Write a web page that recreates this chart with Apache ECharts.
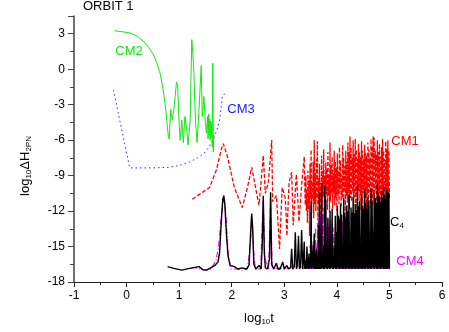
<!DOCTYPE html>
<html><head><meta charset="utf-8">
<script src="https://cdn.jsdelivr.net/npm/echarts@6/dist/echarts.min.js"></script>
<style>html,body{margin:0;padding:0;background:#fff}#c{width:449px;height:332px}</style>
</head><body><div id="c"></div>
<script>
// ---- data ----
var xTicks = [-1, 0, 1, 2, 3, 4, 5, 6];
var yTicks = [-18, -15, -12, -9, -6, -3, 0, 3];

var cm2 = [[-0.23,3.25],[-0.05,3.15],[0.08,3.05],[0.2,2.8],[0.32,2.35],[0.42,1.85],[0.5,1.3],[0.57,0.6],[0.63,-0.2],[0.68,-1.3],[0.72,-2.5],[0.75,-3.6],[0.77,-4.6],[0.79,-5.5],[0.81,-5.9],[0.84,-3.4],[0.87,-4.3],[0.9,-3.4],[0.95,-1.1],[0.97,-1.3],[1.0,-4.6],[1.02,-6.0],[1.05,-4.3],[1.08,-6.2],[1.11,-4.0],[1.14,-4.9],[1.17,-6.4],[1.21,-4.3],[1.24,2.5],[1.26,1.4],[1.28,-0.3],[1.31,-4.3],[1.34,-6.2],[1.38,-3.2],[1.42,0.3],[1.44,-4.0],[1.47,-2.3],[1.5,-4.6],[1.52,-5.4],[1.54,-4.0],[1.55,-5.9],[1.56,-3.8],[1.57,-5.6],[1.58,-4.2],[1.59,-6.0],[1.60,-4.4],[1.61,-5.8],[1.62,-4.6],[1.63,-6.6],[1.64,0.5],[1.65,-7.0],[1.66,-5.6]];

var cm3 = [[-0.25,-1.75],[0.06,-8.35],[0.5,-8.35],[0.8,-8.3],[1.0,-8.15],[1.2,-7.85],[1.35,-7.5],[1.48,-7.1],[1.58,-6.5],[1.66,-5.8],[1.72,-5.1],[1.77,-4.3],[1.8,-3.2],[1.82,-2.3],[1.86,-2.1],[1.93,-2.1]];

var cm1Early = [[1.25,-11.0],[1.45,-10.4],[1.58,-10.0],[1.71,-8.5],[1.80,-6.8],[1.84,-6.3],[1.92,-7.4],[2.05,-10.0],[2.20,-11.7],[2.30,-10.0],[2.38,-8.3],[2.47,-10.4],[2.52,-11.5],[2.60,-7.3],[2.64,-10.5],[2.70,-9.5],[2.76,-6.0],[2.78,-11.2],[2.85,-10.7],[2.91,-15.2],[2.96,-10.0],[3.02,-10.9],[3.05,-14.1],[3.09,-9.6],[3.14,-8.7],[3.17,-13.2],[3.23,-8.9],[3.28,-12.9],[3.33,-9.8],[3.38,-7.4],[3.39,-10.0]];

var c4Early = [[0.78,-16.7],[0.9,-16.85],[1.05,-17.0],[1.2,-16.85],[1.38,-16.7],[1.45,-16.95],[1.52,-17.0],[1.6,-16.8],[1.68,-16.6],[1.74,-16.3],[1.77,-15.5],[1.80,-13.0],[1.83,-11.0],[1.85,-10.7],[1.87,-11.5],[1.90,-14.0],[1.93,-15.8],[1.97,-16.6],[2.05,-16.7],[2.12,-16.9],[2.2,-16.8],[2.28,-16.9],[2.33,-16.6],[2.36,-13.8],[2.38,-12.2],[2.40,-13.5],[2.42,-16.5],[2.46,-16.9],[2.52,-16.6],[2.56,-16.9],[2.58,-15.0],[2.60,-10.7],[2.62,-15.5],[2.64,-16.8],[2.68,-16.9],[2.72,-16.0],[2.74,-10.4],[2.76,-16.5],[2.8,-16.9],[2.85,-16.4],[2.88,-16.9],[2.92,-16.9],[2.97,-16.3],[3.0,-16.9],[3.05,-16.6],[3.08,-16.9],[3.12,-16.8],[3.14,-15.2],[3.16,-16.9],[3.19,-16.7],[3.21,-13.8],[3.23,-16.9],[3.25,-16.6],[3.27,-14.1],[3.29,-16.9],[3.31,-16.7],[3.33,-13.6],[3.35,-16.9],[3.36,-16.5],[3.38,-14.6],[3.39,-16.9]];

var cm4Early = [[1.23,-16.8],[1.3,-16.8],[1.4,-16.9],[1.5,-17.0],[1.6,-16.9],[1.7,-16.2],[1.75,-15.0],[1.8,-12.5],[1.84,-11.0],[1.87,-11.3],[1.9,-13.0],[1.93,-15.5],[1.98,-16.9],[2.1,-16.9],[2.2,-17.0],[2.3,-16.9],[2.36,-14.5],[2.38,-12.5],[2.41,-15.0],[2.45,-16.9],[2.55,-16.9],[2.58,-13.0],[2.60,-11.0],[2.63,-16.0],[2.7,-16.9],[2.74,-11.0],[2.77,-16.9],[2.9,-16.8],[3.0,-16.9],[3.1,-16.8],[3.2,-16.5],[3.3,-16.7],[3.39,-16.9]];

// dense section sampled at these times
var denseT = [3.40,3.41,3.42,3.43,3.44,3.45,3.46,3.47,3.48,3.49,
3.50,3.51,3.52,3.53,3.54,3.55,3.56,3.57,3.58,3.59,
3.60,3.61,3.62,3.63,3.64,3.65,3.66,3.67,3.68,3.69,
3.70,3.71,3.72,3.73,3.74,3.75,3.76,3.77,3.78,3.79,
3.80,3.81,3.82,3.83,3.84,3.85,3.86,3.87,3.88,3.89,
3.90,3.91,3.92,3.93,3.94,3.95,3.96,3.97,3.98,3.99,
4.00,4.01,4.02,4.03,4.04,4.05,4.06,4.07,4.08,4.09,
4.10,4.11,4.12,4.13,4.14,4.15,4.16,4.17,4.18,4.19,
4.20,4.21,4.22,4.23,4.24,4.25,4.26,4.27,4.28,4.29,
4.30,4.31,4.32,4.33,4.34,4.35,4.36,4.37,4.38,4.39,
4.40,4.41,4.42,4.43,4.44,4.45,4.46,4.47,4.48,4.49,
4.50,4.51,4.52,4.53,4.54,4.55,4.56,4.57,4.58,4.59,
4.60,4.61,4.62,4.63,4.64,4.65,4.66,4.67,4.68,4.69,
4.70,4.71,4.72,4.73,4.74,4.75,4.76,4.77,4.78,4.79,
4.80,4.81,4.82,4.83,4.84,4.85,4.86,4.87,4.88,4.89,
4.90,4.91,4.92,4.93,4.94,4.95,4.96,4.97,4.98,4.99,
5.00];

var cm1Dense = [-11.5,-9.0,-12.0,-10.2,-13.0,-8.6,-11.8,-9.4,-14.1,-8.0,
-11.0,-6.8,-12.2,-9.5,-11.0,-7.8,-12.6,-6.0,-11.4,-8.8,
-12.0,-7.6,-10.9,-6.1,-12.8,-9.2,-11.3,-8.0,-12.4,-9.6,
-11.0,-7.3,-12.0,-8.6,-10.8,-6.8,-11.6,-9.0,-12.5,-7.9,
-10.6,-8.4,-11.9,-7.0,-10.7,-8.9,-12.1,-6.2,-11.2,-8.1,
-10.5,-7.4,-11.8,-8.8,-10.4,-6.9,-11.5,-7.8,-10.9,-8.3,
-12.0,-7.1,-10.6,-8.6,-11.4,-6.6,-10.2,-7.7,-11.7,-8.9,
-10.8,-6.4,-11.0,-7.5,-10.3,-8.2,-12.3,-6.9,-10.7,-7.8,
-11.3,-6.2,-10.5,-7.0,-11.8,-5.7,-10.9,-6.6,-11.2,-7.5,
-10.4,-6.0,-11.6,-7.2,-10.8,-5.9,-12.4,-6.8,-10.6,-7.6,
-11.1,-6.3,-10.3,-7.0,-11.9,-7.4,-10.7,-6.1,-11.4,-6.9,
-10.5,-7.6,-11.8,-6.4,-10.9,-7.1,-12.2,-7.3,-10.6,-6.2,
-11.3,-6.8,-10.4,-7.5,-11.7,-5.9,-10.8,-6.5,-11.5,-5.7,
-10.6,-5.8,-11.9,-6.9,-10.3,-7.2,-11.2,-6.0,-10.9,-7.0,
-11.6,-6.3,-10.5,-7.4,-12.0,-6.6,-10.7,-5.9,-11.3,-6.9,
-10.4,-7.6,-11.8,-6.1,-10.6,-6.8,-11.1,-6.0,-10.8,-6.9,
-11.0];

var c4Dense = [-16.9,-16.2,-16.9,-15.0,-16.8,-16.0,-16.9,-15.6,-16.9,-16.1,
-16.8,-11.2,-16.9,-15.4,-16.8,-14.9,-16.9,-13.9,-16.9,-15.6,
-16.9,-15.2,-16.9,-16.4,-16.9,-13.2,-16.9,-10.4,-16.9,-16.2,
-16.9,-9.6,-16.8,-16.3,-16.9,-14.9,-16.9,-9.9,-16.8,-11.0,
-16.9,-16.1,-16.9,-12.6,-16.8,-16.4,-16.9,-12.0,-16.9,-16.2,
-16.8,-11.8,-16.9,-16.0,-16.9,-15.0,-16.8,-12.4,-16.9,-13.8,
-16.9,-11.6,-16.8,-12.4,-16.9,-12.8,-16.9,-11.4,-16.8,-12.3,
-16.9,-14.8,-16.9,-10.9,-16.8,-12.2,-16.9,-12.6,-16.9,-11.5,
-16.8,-12.0,-16.9,-10.6,-16.9,-14.9,-16.8,-11.7,-16.9,-12.1,
-16.9,-10.8,-16.8,-12.2,-16.9,-11.4,-16.9,-11.9,-16.8,-9.8,
-16.9,-11.6,-16.9,-11.2,-16.8,-14.8,-16.9,-10.6,-16.9,-11.5,
-16.8,-11.8,-16.9,-10.2,-16.9,-11.3,-16.8,-11.9,-16.9,-10.8,
-16.9,-11.1,-16.8,-14.6,-16.9,-10.1,-16.9,-11.2,-16.8,-13.8,
-16.9,-10.5,-16.9,-10.9,-16.8,-11.3,-16.9,-9.6,-16.9,-10.8,
-16.8,-10.7,-16.9,-11.2,-16.9,-10.3,-16.8,-10.9,-16.9,-9.9,
-16.9,-10.6,-16.8,-11.0,-16.9,-10.2,-16.9,-10.5,-16.8,-10.4,
-16.9];

var cm4Dense = [-16.9,-16.0,-16.9,-15.2,-16.9,-16.3,-16.9,-15.8,-16.9,-14.9,
-16.9,-12.0,-16.9,-15.5,-16.9,-14.6,-16.9,-14.0,-16.9,-13.4,
-16.8,-14.8,-16.9,-13.0,-16.8,-12.6,-16.9,-11.8,-16.6,-12.4,
-16.8,-11.5,-16.5,-12.2,-16.7,-11.7,-16.4,-12.8,-16.6,-11.9,
-16.5,-13.1,-16.8,-12.5,-16.4,-13.3,-16.7,-12.7,-16.5,-13.6,
-16.8,-12.9,-16.6,-13.4,-16.8,-14.0,-16.9,-13.2,-16.9,-14.4,
-16.9,-13.0,-16.9,-14.2,-16.9,-12.6,-16.9,-13.8,-16.9,-14.6,
-16.9,-12.8,-16.9,-13.5,-16.9,-14.1,-16.9,-12.4,-16.9,-13.9,
-16.9,-14.5,-16.9,-12.9,-16.9,-13.6,-16.9,-14.8,-16.9,-12.7,
-16.9,-13.4,-16.9,-14.3,-16.9,-12.5,-16.9,-13.8,-16.9,-14.7,
-16.9,-13.1,-16.9,-12.6,-16.9,-14.0,-16.9,-13.3,-16.9,-12.8,
-16.9,-14.4,-16.9,-13.0,-16.9,-12.3,-16.9,-13.7,-16.9,-14.9,
-16.9,-12.9,-16.9,-13.6,-16.9,-14.2,-16.9,-12.5,-16.9,-13.3,
-16.9,-14.6,-16.9,-13.1,-16.9,-12.8,-16.9,-13.9,-16.9,-12.6,
-16.9,-13.5,-16.9,-14.1,-16.9,-12.7,-16.9,-13.2,-16.9,-14.0,
-16.9,-12.9,-16.9,-13.6,-16.9,-14.3,-16.9,-13.0,-16.9,-13.7,
-16.9];

// ---- build series data from the arrays ----
function withDense(early, dense) {
  return early.concat(denseT.map(function (t, i) { return [t, dense[i]]; }));
}
var FONT = '"Liberation Sans", Arial, sans-serif';
var chart = echarts.init(document.getElementById('c'), null, {renderer: 'canvas'});
function lineSeries(name, data, color, type, z, w) {
  return {name: name, type: 'line', data: data, showSymbol: false, symbol: 'none',
    silent: true, animation: false, z: z,
    lineStyle: {color: color, width: w || 1, type: type}};
}
var sub = {fontSize: 8, fontFamily: FONT, padding: [7, 0, 0, 0], fill: '#000'};
var main = {fontSize: 13, fontFamily: FONT};
chart.setOption({
  animation: false,
  backgroundColor: '#fff',
  grid: {left: 74, right: 7, top: 16, bottom: 50},
  xAxis: {
    type: 'value', min: xTicks[0], max: xTicks[xTicks.length - 1], interval: 1,
    axisLine: {onZero: false, lineStyle: {color: '#222', width: 1.2}},
    axisTick: {show: true, length: 5, lineStyle: {color: '#222'}},
    minorTick: {show: true, splitNumber: 2, length: 3, lineStyle: {color: '#222'}},
    splitLine: {show: false},
    axisLabel: {color: '#000', fontSize: 12, fontFamily: FONT, margin: 8}
  },
  yAxis: {
    type: 'value', min: yTicks[0], max: 4.5, interval: 3,
    axisLine: {onZero: false, lineStyle: {color: '#444', width: 1.5}},
    axisTick: {show: true, length: 6, lineStyle: {color: '#444'}},
    minorTick: {show: true, splitNumber: 2, length: 4, lineStyle: {color: '#444'}},
    splitLine: {show: false},
    axisLabel: {color: '#000', fontSize: 12, fontFamily: FONT, margin: 9,
      showMaxLabel: false,
      formatter: function (v) { return yTicks.indexOf(v) >= 0 ? String(v) : ''; }}
  },
  series: [
    lineSeries('CM3', cm3, '#2a2aff', [1.5, 3], 2),
    lineSeries('CM2', cm2, '#11e811', 'solid', 3),
    lineSeries('CM1', withDense(cm1Early, cm1Dense), '#ff0000', [4, 2], 4, 1.3),
    lineSeries('CM4', withDense(cm4Early, cm4Dense), '#ff00ff', [6, 2, 1, 2], 5, 1.1),
    lineSeries('C4', withDense(c4Early, c4Dense), '#000000', 'solid', 6, 1.4)
  ],
  graphic: [
    {type: 'text', x: 83, y: 0, style: {text: 'ORBIT 1', font: '13px ' + FONT, fill: '#000', align: 'left', verticalAlign: 'top'}},
    {type: 'text', x: 129, y: 51, style: {text: 'CM2', font: '13px ' + FONT, fill: '#11e811', align: 'center', verticalAlign: 'middle'}},
    {type: 'text', x: 241, y: 109, style: {text: 'CM3', font: '13px ' + FONT, fill: '#1a1aff', align: 'center', verticalAlign: 'middle'}},
    {type: 'text', x: 405, y: 141, style: {text: 'CM1', font: '13px ' + FONT, fill: '#ff0000', align: 'center', verticalAlign: 'middle'}},
    {type: 'text', x: 397, y: 222, style: {text: '{m|C}{s|4}', rich: {m: main, s: sub}, fill: '#000', align: 'center', verticalAlign: 'middle'}},
    {type: 'text', x: 410, y: 261, style: {text: 'CM4', font: '13px ' + FONT, fill: '#ff00ff', align: 'center', verticalAlign: 'middle'}},
    {type: 'text', x: 259, y: 318, style: {text: '{m|log}{s|10}{m|t}', rich: {m: main, s: sub}, fill: '#000', align: 'center', verticalAlign: 'middle'}},
    {type: 'text', x: 25, y: 166, rotation: Math.PI / 2, style: {text: '{m|log}{s|10}{m|ΔH}{s|2PN}', rich: {m: main, s: sub}, fill: '#000', align: 'center', verticalAlign: 'middle'}}
  ]
});
</script>
</body></html>
